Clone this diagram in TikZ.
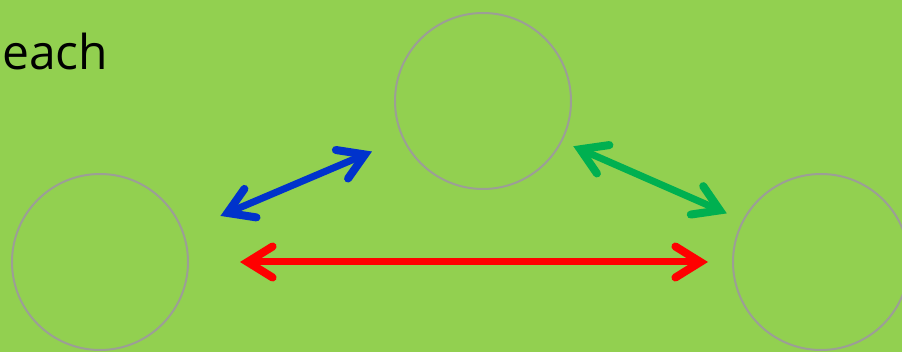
\documentclass[tikz,border=0pt]{standalone}
\usepackage{fontspec}
\setmainfont{Open Sans}
\usetikzlibrary{arrows.meta}

\definecolor{slidegreen}{RGB}{146,208,80}
\definecolor{ringgray}{RGB}{156,158,150}
\definecolor{linkblue}{RGB}{0,51,204}
\definecolor{linkgreen}{RGB}{0,176,80}
\definecolor{linkred}{RGB}{255,0,0}

\begin{document}
\begin{tikzpicture}[
  x=1pt, y=-1pt,
  ring/.style={circle, draw=ringgray, line width=2pt, minimum size=176pt, inner sep=0pt},
  link/.style={line width=7pt, line cap=round,
               {Straight Barb[length=25pt, width=31pt, line width=8pt, line cap=round, line join=miter]}-{Straight Barb[length=25pt, width=31pt, line width=8pt, line cap=round, line join=miter]}}
]
  \useasboundingbox (0,0) rectangle (902,352);
  \clip (0,0) rectangle (902,352);
  \fill[slidegreen] (0,0) rectangle (902,352);

  \node[anchor=base west, inner sep=0pt, font=\fontsize{48}{58}\selectfont] (word) at (2,70) {each};

  \node[ring] (left)  at (100,262) {};
  \node[ring] (mid)   at (483,101) {};
  \node[ring] (right) at (821,262) {};

  \draw[link, linkblue, shorten <=40pt, shorten >=33pt] (left.20) -- (mid.205);
  \draw[link, linkgreen, shorten <=12pt, shorten >=17pt] (mid.-27) -- (right.152);
  \draw[link, linkred, shorten <=51pt, shorten >=24pt] (left.east) -- (right.west);

\end{tikzpicture}
\end{document}
